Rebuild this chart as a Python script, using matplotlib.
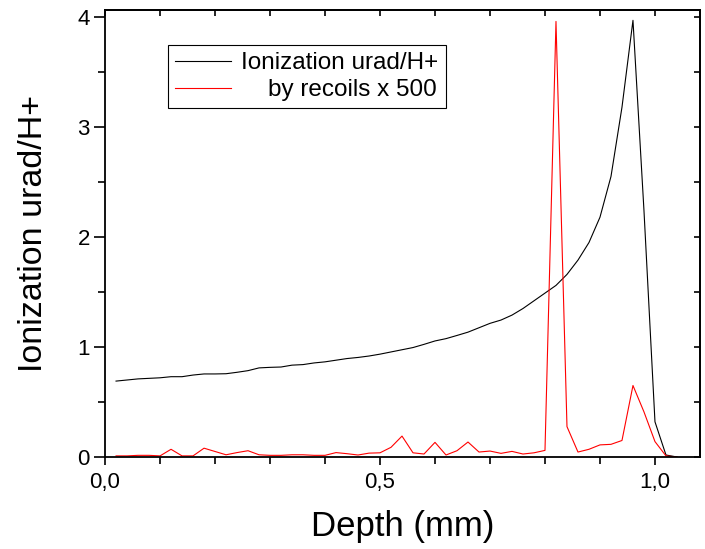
import matplotlib

matplotlib.use("Agg")

import matplotlib.pyplot as plt
from matplotlib.ticker import FuncFormatter, MultipleLocator

# depth grid (mm), 0.02 mm bins
depth = [0.02, 0.04, 0.06, 0.08, 0.10, 0.12, 0.14, 0.16, 0.18, 0.20,
         0.22, 0.24, 0.26, 0.28, 0.30, 0.32, 0.34, 0.36, 0.38, 0.40,
         0.42, 0.44, 0.46, 0.48, 0.50, 0.52, 0.54, 0.56, 0.58, 0.60,
         0.62, 0.64, 0.66, 0.68, 0.70, 0.72, 0.74, 0.76, 0.78, 0.80,
         0.82, 0.84, 0.86, 0.88, 0.90, 0.92, 0.94, 0.96, 0.98, 1.00,
         1.02, 1.04]

ionization = [0.69, 0.70, 0.71, 0.715, 0.72, 0.73, 0.73, 0.745, 0.755, 0.755,
              0.757, 0.77, 0.785, 0.81, 0.815, 0.818, 0.835, 0.84, 0.855, 0.865,
              0.88, 0.895, 0.905, 0.918, 0.935, 0.955, 0.975, 0.995, 1.024, 1.055,
              1.076, 1.105, 1.135, 1.175, 1.215, 1.245, 1.29, 1.35, 1.42, 1.49,
              1.56, 1.66, 1.79, 1.95, 2.18, 2.55, 3.18, 3.97, 2.24, 0.32,
              0.018, 0.0]

recoils = [0.01, 0.01, 0.015, 0.015, 0.01, 0.07, 0.01, 0.01, 0.08, 0.05,
           0.02, 0.04, 0.057, 0.02, 0.015, 0.015, 0.02, 0.02, 0.015, 0.015,
           0.04, 0.03, 0.018, 0.035, 0.038, 0.088, 0.19, 0.038, 0.027, 0.133,
           0.018, 0.057, 0.136, 0.045, 0.054, 0.033, 0.051, 0.027, 0.038, 0.06,
           3.96, 0.276, 0.045, 0.07, 0.11, 0.115, 0.15, 0.65, 0.41, 0.14,
           0.01, 0.0]

plt.rcParams["font.family"] = ["Liberation Sans", "DejaVu Sans"]

fig = plt.figure(figsize=(7.05, 5.49), dpi=100)
ax = fig.add_axes([0.149, 0.1676, 0.844, 0.8142])

ax.plot(depth, ionization, color="black", linewidth=0.8, label="Ionization urad/H+")
ax.plot(depth, recoils, color="red", linewidth=0.8, label="    by recoils x 500")

ax.set_xlim(0, 1.082)
ax.set_ylim(0, 4.064)

ax.xaxis.set_major_locator(MultipleLocator(0.5))
ax.xaxis.set_minor_locator(MultipleLocator(0.1))
ax.yaxis.set_major_locator(MultipleLocator(1))
ax.yaxis.set_minor_locator(MultipleLocator(0.5))
ax.xaxis.set_major_formatter(FuncFormatter(lambda v, p: f"{v:.1f}".replace(".", ",")))
ax.yaxis.set_major_formatter(FuncFormatter(lambda v, p: f"{v:.0f}"))

ax.tick_params(which="major", direction="out", width=1.2, labelsize=16)
ax.tick_params(axis="x", which="major", length=6, pad=5)
ax.tick_params(axis="y", which="major", length=8, pad=3)
ax.tick_params(which="minor", direction="out", length=5, width=1.2)

for spine in ax.spines.values():
    spine.set_linewidth(1.3)

# inward ticks on top and right, no labels
top = ax.secondary_xaxis("top")
top.xaxis.set_major_locator(MultipleLocator(0.1))
top.tick_params(direction="in", length=4, width=1.2, labeltop=False)
top.spines["top"].set_linewidth(1.3)
right = ax.secondary_yaxis("right")
right.yaxis.set_major_locator(MultipleLocator(0.5))
right.tick_params(direction="in", length=4, width=1.2, labelright=False)
right.spines["right"].set_linewidth(1.3)

ax.set_xlabel("Depth (mm)", fontsize=25, labelpad=12)
ax.set_ylabel("Ionization urad/H+", fontsize=24.5, labelpad=20)

leg = ax.legend(loc="upper left", bbox_to_anchor=(0.106, 0.922), borderaxespad=0,
                fontsize=17.5, handlelength=2.3, handletextpad=0.4, borderpad=0.3,
                labelspacing=0.2, fancybox=False, framealpha=1)
leg.get_frame().set_edgecolor("black")
leg.get_frame().set_linewidth(0.8)

fig.savefig("out.png", dpi=100)
plt.close(fig)
